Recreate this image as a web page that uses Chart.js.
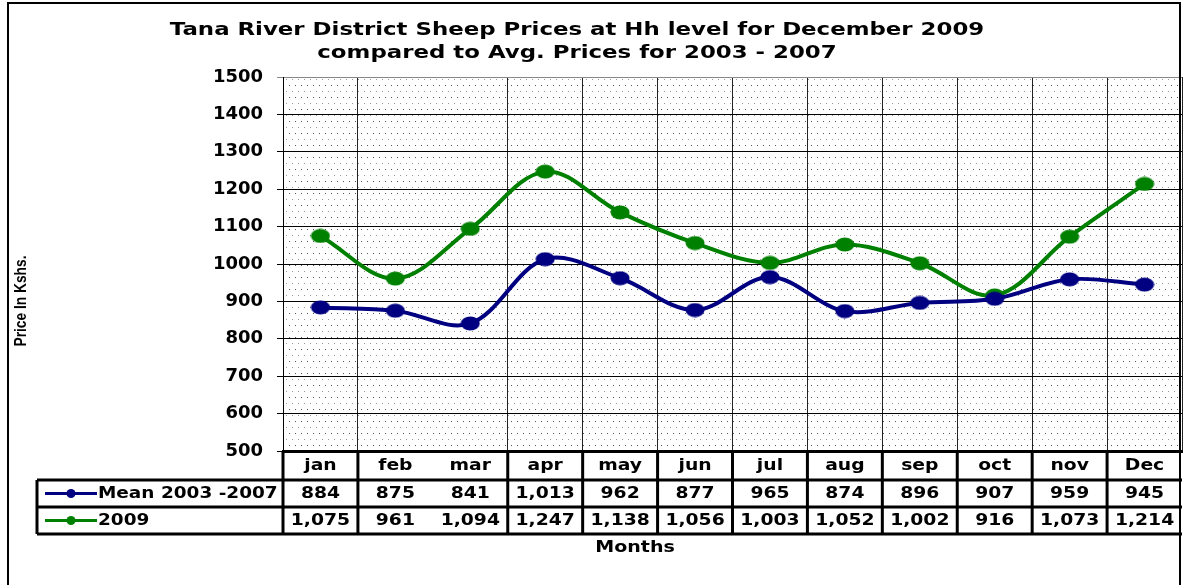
<!DOCTYPE html>
<html>
<head>
<meta charset="utf-8">
<script src="https://cdn.jsdelivr.net/npm/chart.js@4.4.1/dist/chart.umd.min.js"></script>
<style>
html,body{margin:0;padding:0;background:#fff}
</style>
</head>
<body>
<canvas id="myChart" width="1183" height="585"></canvas>
<script>
// data
const months = ['jan','feb','mar','apr','may','jun','jul','aug','sep','oct','nov','Dec'];
const mean0307 = [884,875,841,1013,962,877,965,874,896,907,959,945];
const y2009 = [1075,961,1094,1247,1138,1056,1003,1052,1002,916,1073,1214];
const seriesNames = ['Mean 2003 -2007','2009'];
const seriesColors = ['#000080','#008000'];
const titleLines = ['Tana River District Sheep Prices at Hh level for December 2009','compared to Avg. Prices for 2003 - 2007'];
const yTitle = 'Price In Kshs.';
const xTitle = 'Months';

const FONT = 'DejaVu Sans';

// ellipse marker like the stretched excel dots
function marker(color){
  const c = document.createElement('canvas');
  c.width = 20; c.height = 15;
  const g = c.getContext('2d');
  g.fillStyle = color;
  g.beginPath();
  g.ellipse(10,7.5,9.5,7,0,0,Math.PI*2);
  g.fill();
  return c;
}

// dotted plot background
function dots(){
  const c = document.createElement('canvas');
  c.width = 12; c.height = 12;
  const g = c.getContext('2d');
  g.fillStyle = '#fff';
  g.fillRect(0,0,12,12);
  g.fillStyle = '#555';
  g.fillRect(1,1,1,1); g.fillRect(7,1,1,1);
  g.fillStyle = '#999';
  g.fillRect(4,7,1,1); g.fillRect(10,7,1,1);
  return c;
}

const fmt = v => v.toLocaleString('en-US');

// the original is stretched sideways, so text gets a wider x scale
function wide(ctx, txt, x, y, sx, align){
  ctx.save();
  ctx.translate(x,y);
  ctx.scale(sx,1);
  ctx.textAlign = align || 'center';
  ctx.fillText(txt,0,0);
  ctx.restore();
}

const deco = {
  id:'deco',
  beforeDraw(chart){
    const ctx = chart.ctx, a = chart.chartArea;
    ctx.save();
    ctx.fillStyle = '#fff';
    ctx.fillRect(0,0,chart.width,chart.height);
    ctx.fillStyle = ctx.createPattern(dots(),'repeat');
    ctx.fillRect(a.left,a.top,a.right-a.left,a.bottom-a.top);
    ctx.restore();
  },
  afterDraw(chart){
    const ctx = chart.ctx, a = chart.chartArea, x = chart.scales.x;
    const w = x.getPixelForValue(1) - x.getPixelForValue(0);
    ctx.save();
    // frame
    ctx.strokeStyle = '#000';
    ctx.lineWidth = 2;
    ctx.strokeRect(8,3,1172,640);

    // title
    ctx.fillStyle = '#000';
    ctx.textBaseline = 'middle';
    ctx.font = 'bold 18px "' + FONT + '"';
    wide(ctx,titleLines[0],577,30,1.27);
    wide(ctx,titleLines[1],577,53,1.27);

    // y axis title, narrow
    ctx.save();
    ctx.translate(22,301);
    ctx.rotate(-Math.PI/2);
    ctx.font = 'bold 16px "Liberation Sans"';
    wide(ctx,yTitle,0,0,0.86);
    ctx.restore();

    // data table
    const hTop = 451, hBot = 480, r1 = 507, r2 = 534, legL = 37;
    ctx.lineWidth = 3;
    ctx.beginPath();
    [hBot,r1,r2].forEach(yy=>{ ctx.moveTo(legL,yy); ctx.lineTo(a.right,yy); });
    ctx.moveTo(legL,hBot); ctx.lineTo(legL,r2);
    ctx.moveTo(a.left,hTop); ctx.lineTo(a.left,r2);
    for(let i=1;i<months.length;i++){
      if(i===2) continue;
      const bx = x.getPixelForValue(i) - w/2;
      ctx.moveTo(bx,hTop); ctx.lineTo(bx,r2);
    }
    ctx.stroke();

    ctx.font = 'bold 15px "' + FONT + '"';
    months.forEach((m,i)=>{
      const cx = x.getPixelForValue(i);
      wide(ctx,m,cx,(hTop+hBot)/2+1,1.25);
      wide(ctx,fmt(mean0307[i]),cx,(hBot+r1)/2+1,1.25);
      wide(ctx,fmt(y2009[i]),cx,(r1+r2)/2+1,1.25);
    });

    // legend keys in the table
    [[hBot,r1],[r1,r2]].forEach((r,k)=>{
      const cy = (r[0]+r[1])/2;
      ctx.strokeStyle = seriesColors[k];
      ctx.fillStyle = seriesColors[k];
      ctx.lineWidth = 3;
      ctx.beginPath(); ctx.moveTo(45,cy); ctx.lineTo(97,cy); ctx.stroke();
      ctx.beginPath(); ctx.arc(71,cy,4.5,0,Math.PI*2); ctx.fill();
      ctx.fillStyle = '#000';
      wide(ctx,seriesNames[k],98,cy+1,1.23,'left');
    });

    wide(ctx,xTitle,635,548,1.27);
    ctx.restore();
  }
};

new Chart(document.getElementById('myChart'),{
  type:'line',
  data:{
    labels: months,
    datasets:[
      {label:seriesNames[0], data:mean0307, borderColor:seriesColors[0], backgroundColor:seriesColors[0],
       borderWidth:4, tension:0.35, pointStyle:marker(seriesColors[0])},
      {label:seriesNames[1], data:y2009, borderColor:seriesColors[1], backgroundColor:seriesColors[1],
       borderWidth:4, tension:0.35, pointStyle:marker(seriesColors[1])}
    ]
  },
  options:{
    responsive:false,
    devicePixelRatio:1,
    animation:false,
    layout:{autoPadding:false, padding:{top:77,left:14,right:1,bottom:0}},
    plugins:{legend:{display:false},title:{display:false},tooltip:{enabled:false}},
    scales:{
      x:{
        offset:true,
        grid:{offset:true, drawTicks:false, lineWidth:1,
          color: c => c.index===2 ? 'rgba(0,0,0,0)' : '#222'},
        ticks:{display:false},
        border:{display:true,color:'#000',width:3},
        afterFit: s => { s.height = 134; }
      },
      y:{
        min:500, max:1500,
        ticks:{stepSize:100, color:'#000', padding:14, callback: v => String(v),
          font:{family:FONT, weight:'bold', size:18}},
        grid:{tickLength:6, lineWidth:1,
          color: c => (c.tick && c.tick.value===1500) ? '#888' : '#000'},
        border:{color:'#000',width:1},
        afterFit: s => { s.width = 269; }
      }
    }
  },
  plugins:[deco]
});
</script>
</body>
</html>
